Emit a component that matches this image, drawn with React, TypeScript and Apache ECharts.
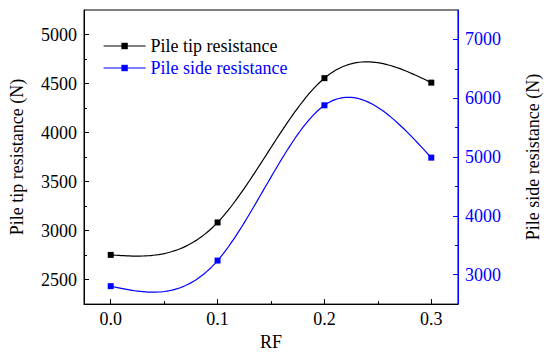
import React, { useEffect, useRef } from "react";
import * as echarts from "echarts";

const rf = [0.0, 0.1, 0.2, 0.3];
const tipResistance = [2752, 3083, 4555, 4509];
const sideResistance = [2805, 3240, 5880, 4990];

const xLabelTicks = [0, 0.1, 0.2, 0.3];
const xMinorTicks = [0.05, 0.15, 0.25];
const leftLabelTicks = [2500, 3000, 3500, 4000, 4500, 5000];
const leftMinorTicks = [2750, 3250, 3750, 4250, 4750];
const rightLabelTicks = [3000, 4000, 5000, 6000, 7000];
const rightMinorTicks = [3500, 4500, 5500, 6500];

const FONT = "Liberation Serif";
const BLUE = "#0000FF";

function splineM(xs: number[], ys: number[]): number[] {
  const n = xs.length;
  const M = new Array(n).fill(0);
  if (n < 3) return M;
  const a: number[] = [], b: number[] = [], c: number[] = [], d: number[] = [];
  for (let i = 1; i < n - 1; i++) {
    const h0 = xs[i] - xs[i - 1];
    const h1 = xs[i + 1] - xs[i];
    a.push(h0);
    b.push(2 * (h0 + h1));
    c.push(h1);
    d.push(6 * ((ys[i + 1] - ys[i]) / h1 - (ys[i] - ys[i - 1]) / h0));
  }
  const m = b.length;
  for (let i = 1; i < m; i++) {
    const w = a[i] / b[i - 1];
    b[i] -= w * c[i - 1];
    d[i] -= w * d[i - 1];
  }
  const sol = new Array(m).fill(0);
  sol[m - 1] = d[m - 1] / b[m - 1];
  for (let i = m - 2; i >= 0; i--) sol[i] = (d[i] - c[i] * sol[i + 1]) / b[i];
  for (let i = 0; i < m; i++) M[i + 1] = sol[i];
  return M;
}

function splineCurve(xs: number[], ys: number[], steps: number): number[][] {
  const M = splineM(xs, ys);
  const out: number[][] = [];
  for (let i = 0; i < xs.length - 1; i++) {
    const h = xs[i + 1] - xs[i];
    for (let k = 0; k <= steps; k++) {
      if (i > 0 && k === 0) continue;
      const x = xs[i] + (h * k) / steps;
      const A = xs[i + 1] - x;
      const B = x - xs[i];
      const y =
        (M[i] * A * A * A) / (6 * h) +
        (M[i + 1] * B * B * B) / (6 * h) +
        (ys[i] / h - (M[i] * h) / 6) * A +
        (ys[i + 1] / h - (M[i + 1] * h) / 6) * B;
      out.push([x, y]);
    }
  }
  return out;
}

export default function App() {
  const ref = useRef<HTMLDivElement>(null);
  useEffect(() => {
    if (!ref.current) return;
    const chart = echarts.init(ref.current, null, { renderer: "svg" });
    const tipData = rf.map((x, i) => [x, tipResistance[i]]);
    const sideData = rf.map((x, i) => [x, sideResistance[i]]);

    const curveSeries = (name: string, ys: number[], yAxisIndex: number, color: string) => ({
      type: "custom",
      name: name + " curve",
      xAxisIndex: 0,
      yAxisIndex,
      silent: true,
      z: 1,
      data: [[rf[0], ys[0]]],
      renderItem: (_params: any, api: any) => {
        const pts = splineCurve(rf, ys, 40).map((p) => api.coord(p));
        return {
          type: "polyline",
          shape: { points: pts },
          style: { stroke: color, lineWidth: 1.2, fill: "none" },
        };
      },
    });

    const nameStyle = { fontFamily: FONT, fontSize: 18, color: "#000" };

    chart.setOption({
      animation: false,
      grid: { left: 72, right: 81, top: 10, bottom: 51, show: true, borderColor: "#000", borderWidth: 1 },
      legend: {
        orient: "vertical",
        left: 98,
        top: 32,
        itemWidth: 42,
        itemHeight: 8,
        itemGap: 4,
        textStyle: { fontFamily: FONT, fontSize: 18 },
        data: [
          { name: "Pile tip resistance", textStyle: { color: "#000" }, lineStyle: { color: "#000", width: 1.2, opacity: 1 } },
          { name: "Pile side resistance", textStyle: { color: BLUE }, lineStyle: { color: BLUE, width: 1.2, opacity: 1 } },
        ],
      },
      xAxis: [
        {
          type: "value",
          min: -0.025,
          max: 0.325,
          name: "RF",
          nameLocation: "middle",
          nameGap: 28,
          nameTextStyle: nameStyle,
          axisLine: { onZero: false, lineStyle: { color: "#000", width: 1 } },
          axisTick: { inside: true, length: 5, customValues: xLabelTicks, lineStyle: { color: "#000" } },
          axisLabel: {
            customValues: xLabelTicks,
            formatter: (v: number) => v.toFixed(1),
            fontFamily: FONT,
            fontSize: 18,
            color: "#000",
            margin: 6,
          },
          splitLine: { show: false },
        },
        {
          type: "value",
          min: -0.025,
          max: 0.325,
          position: "bottom",
          axisLine: { show: false, onZero: false },
          axisTick: { inside: true, length: 3, customValues: xMinorTicks, lineStyle: { color: "#000" } },
          axisLabel: { show: false },
          splitLine: { show: false },
        },
      ],
      yAxis: [
        {
          type: "value",
          min: 2250,
          max: 5250,
          position: "left",
          name: "Pile tip resistance (N)",
          nameLocation: "middle",
          nameGap: 58,
          nameTextStyle: nameStyle,
          axisLine: { show: true, onZero: false, lineStyle: { color: "#000", width: 1 } },
          axisTick: { show: true, inside: true, length: 5, customValues: leftLabelTicks, lineStyle: { color: "#000" } },
          axisLabel: {
            customValues: leftLabelTicks,
            formatter: (v: number) => String(v),
            fontFamily: FONT,
            fontSize: 18,
            color: "#000",
            margin: 7,
          },
          splitLine: { show: false },
        },
        {
          type: "value",
          min: 2500,
          max: 7500,
          position: "right",
          name: "Pile side resistance (N)",
          nameLocation: "middle",
          nameGap: 66,
          nameRotate: 90,
          nameTextStyle: nameStyle,
          axisLine: { show: true, onZero: false, lineStyle: { color: BLUE, width: 1 } },
          axisTick: { show: true, inside: true, length: 5, customValues: rightLabelTicks, lineStyle: { color: BLUE } },
          axisLabel: {
            customValues: rightLabelTicks,
            formatter: (v: number) => String(v),
            fontFamily: FONT,
            fontSize: 18,
            color: BLUE,
            margin: 7,
          },
          splitLine: { show: false },
        },
        {
          type: "value",
          min: 2250,
          max: 5250,
          position: "left",
          axisLine: { show: false, onZero: false },
          axisTick: { show: true, inside: true, length: 3, customValues: leftMinorTicks, lineStyle: { color: "#000" } },
          axisLabel: { show: false },
          splitLine: { show: false },
        },
        {
          type: "value",
          min: 2500,
          max: 7500,
          position: "right",
          axisLine: { show: false, onZero: false },
          axisTick: { show: true, inside: true, length: 3, customValues: rightMinorTicks, lineStyle: { color: BLUE } },
          axisLabel: { show: false },
          splitLine: { show: false },
        },
      ],
      series: [
        curveSeries("Pile tip resistance", tipResistance, 0, "#000"),
        curveSeries("Pile side resistance", sideResistance, 1, BLUE),
        {
          name: "Pile tip resistance",
          type: "line",
          xAxisIndex: 0,
          yAxisIndex: 0,
          data: tipData,
          symbol: "rect",
          symbolSize: 6,
          z: 3,
          itemStyle: { color: "#000" },
          lineStyle: { color: "#000", width: 1.2, opacity: 0 },
        },
        {
          name: "Pile side resistance",
          type: "line",
          xAxisIndex: 0,
          yAxisIndex: 1,
          data: sideData,
          symbol: "rect",
          symbolSize: 6,
          z: 3,
          itemStyle: { color: BLUE },
          lineStyle: { color: BLUE, width: 1.2, opacity: 0 },
        },
      ],
    });
    return () => chart.dispose();
  }, []);
  return <div ref={ref} style={{ width: 550, height: 356, position: "absolute", left: 0, top: 0 }} />;
}
